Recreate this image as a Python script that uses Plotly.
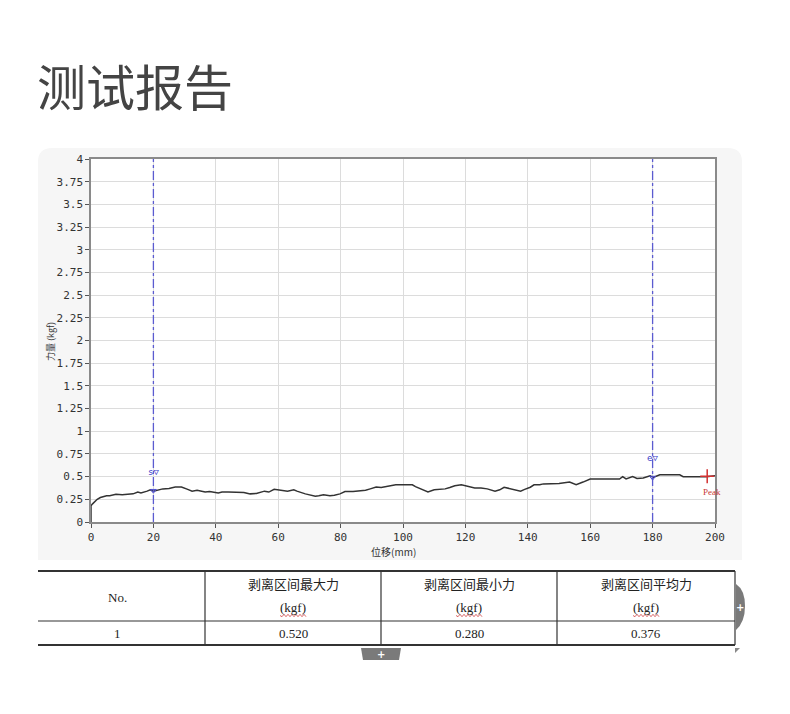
import plotly.graph_objects as go

W, H = 790, 714

# ---------------- data ----------------
displacement = [0, 0, 0.5, 1, 2, 3, 4, 5, 6, 8, 10, 12, 13.5, 15, 16, 18, 19, 20, 21, 23,
                25, 27, 29, 30, 31, 32.4, 34, 36.6, 38, 40.8, 42, 44, 47, 49, 51, 53, 55.6,
                57, 58.7, 60, 62, 63, 65, 66, 68.7, 70, 71.9, 73, 74.5, 76.6, 78, 79.8,
                81.4, 84, 86, 88, 89.5, 91.4, 93, 95.6, 97.7, 100, 103, 104, 105.8, 107,
                108, 110, 112, 113.5, 115, 116.6, 118.7, 121, 123, 125, 127, 129.5, 131,
                132.4, 134, 135.6, 137.7, 139, 140.8, 142, 143.8, 145, 147, 150, 153.4,
                155.5, 157.7, 159, 160, 165, 169.4, 170.4, 171.5, 173.6, 175, 177, 179.2,
                180.2, 182.3, 185, 188.7, 189.8, 193, 197.3, 200]
force = [0.0, 0.18, 0.2, 0.22, 0.25, 0.27, 0.28, 0.29, 0.29, 0.305, 0.30, 0.305, 0.31,
         0.33, 0.32, 0.34, 0.355, 0.34, 0.35, 0.365, 0.37, 0.385, 0.385, 0.375, 0.36,
         0.34, 0.35, 0.33, 0.335, 0.32, 0.33, 0.33, 0.33, 0.325, 0.31, 0.315, 0.34, 0.33,
         0.36, 0.355, 0.35, 0.34, 0.355, 0.34, 0.31, 0.30, 0.285, 0.29, 0.30, 0.29,
         0.295, 0.31, 0.335, 0.335, 0.34, 0.35, 0.365, 0.385, 0.38, 0.40, 0.41, 0.41,
         0.41, 0.39, 0.36, 0.345, 0.33, 0.355, 0.36, 0.365, 0.38, 0.40, 0.41, 0.39,
         0.376, 0.375, 0.365, 0.34, 0.355, 0.383, 0.37, 0.365, 0.34, 0.36, 0.383, 0.41,
         0.41, 0.42, 0.42, 0.425, 0.44, 0.41, 0.44, 0.46, 0.474, 0.474, 0.474, 0.50,
         0.474, 0.50, 0.48, 0.485, 0.51, 0.49, 0.52, 0.52, 0.52, 0.50, 0.50, 0.50, 0.51]

cursor_x = [20, 180]
cursor_y = [0.345, 0.49]
cursor_labels = ["s▽", "e▽"]
cursor_label_y = [0.55, 0.70]

peak_x = [197.5]
peak_y = [0.505]
peak_label = "Peak"

y_ticks = [0, 0.25, 0.5, 0.75, 1, 1.25, 1.5, 1.75, 2, 2.25, 2.5, 2.75, 3, 3.25, 3.5, 3.75, 4]
y_tick_text = ["0", "0.25", "0.5", "0.75", "1", "1.25", "1.5", "1.75", "2", "2.25", "2.5",
               "2.75", "3", "3.25", "3.5", "3.75", "4"]
x_ticks = [0, 20, 40, 60, 80, 100, 120, 140, 160, 180, 200]

title_text = "测试报告"
x_title = "位移(mm)"
y_title = "力量 (kgf)"

table_headers = ["No.", "剥离区间最大力", "剥离区间最小力", "剥离区间平均力"]
table_units = ["", "(kgf)", "(kgf)", "(kgf)"]
table_row = ["1", "0.520", "0.280", "0.376"]

# ---------------- helpers (pixel -> paper) ----------------
def px(x):
    return x / W

def py(y):
    return 1 - y / H

def note(x, y, text, font, **kw):
    d = dict(x=px(x), y=py(y), xref="paper", yref="paper", text=text, showarrow=False,
             xanchor="center", yanchor="middle", font=font)
    d.update(kw)
    return d

fig = go.Figure()

fig.add_trace(go.Scatter(x=displacement, y=force, mode="lines",
                         line=dict(color="#333333", width=1.5),
                         hoverinfo="skip", showlegend=False))

# cursor markers on the curve
fig.add_trace(go.Scatter(x=cursor_x, y=cursor_y, mode="markers",
                         marker=dict(symbol="triangle-down-open", size=5, color="#4a4ad0",
                                     line=dict(color="#4a4ad0", width=1)),
                         hoverinfo="skip", showlegend=False))
# peak
fig.add_trace(go.Scatter(x=peak_x, y=peak_y, mode="markers",
                         marker=dict(symbol="cross-thin-open", size=10, color="#d23030",
                                     line=dict(color="#d23030", width=1.5)),
                         hoverinfo="skip", showlegend=False))

shapes = []
annotations = []

# light grey panel behind the chart
shapes.append(dict(type="path", xref="paper", yref="paper", layer="below",
                   path=(f"M {px(52)},{py(148)} L {px(728)},{py(148)} "
                         f"Q {px(742)},{py(148)} {px(742)},{py(162)} "
                         f"L {px(742)},{py(560)} L {px(38)},{py(560)} "
                         f"L {px(38)},{py(162)} Q {px(38)},{py(148)} {px(52)},{py(148)} Z"),
                   fillcolor="#f6f6f6", line=dict(width=0)))
# white plot area
shapes.append(dict(type="rect", xref="paper", yref="paper", layer="below",
                   x0=px(91), x1=px(715), y0=py(522), y1=py(159),
                   fillcolor="white", line=dict(width=0)))

# cursor lines
for cx, lab, ly in zip(cursor_x, cursor_labels, cursor_label_y):
    shapes.append(dict(type="line", xref="x", yref="y", x0=cx, x1=cx, y0=0, y1=4,
                       line=dict(color="#5b5bd0", width=1.3, dash="dashdot")))
    annotations.append(dict(x=cx, y=ly, xref="x", yref="y", text=lab, showarrow=False,
                            xanchor="center", yanchor="middle",
                            font=dict(family="DejaVu Sans Mono", size=9, color="#3c3cc8")))

annotations.append(dict(x=peak_x[0] + 1.5, y=peak_y[0] - 0.17, xref="x", yref="y",
                        text=peak_label, showarrow=False, xanchor="center", yanchor="middle",
                        font=dict(family="Liberation Serif", size=9, color="#c83838")))

# title
annotations.append(note(35, 84, title_text,
                        dict(family="Noto Sans CJK SC", size=49, color="#444444"),
                        xanchor="left"))

# axis titles
annotations.append(note(393, 551, x_title,
                        dict(family="Noto Sans CJK SC", size=10, color="#333333")))
annotations.append(note(50, 342, y_title,
                        dict(family="Noto Sans CJK SC", size=9, color="#333333"),
                        textangle=-90))

# ---------------- table ----------------
col_edges = [38, 205, 381, 557, 735]
t_top, t_mid, t_bot = 571, 621, 645
for yy, wdt in [(t_top, 2), (t_mid, 1.2), (t_bot, 2)]:
    shapes.append(dict(type="line", xref="paper", yref="paper", x0=px(col_edges[0]),
                       x1=px(col_edges[-1]), y0=py(yy), y1=py(yy),
                       line=dict(color="#333333", width=wdt)))
for xe in col_edges[1:]:
    shapes.append(dict(type="line", xref="paper", yref="paper", x0=px(xe), x1=px(xe),
                       y0=py(t_top), y1=py(t_bot), line=dict(color="#333333", width=1.2)))

cjk_font = dict(family="Noto Sans CJK SC", size=13, color="#222222")
serif_font = dict(family="Liberation Serif", size=13, color="#222222")
for i in range(4):
    cxm = (col_edges[i] + col_edges[i + 1]) / 2
    if table_units[i]:
        annotations.append(note(cxm, 583, table_headers[i], cjk_font))
        annotations.append(note(cxm, 607, table_units[i], serif_font))
        # red spell-check squiggle
        zx0 = cxm - 13
        pts = " ".join(f"L {px(zx0 + k * 2)},{py(615.5 + (1.2 if k % 2 else -1.2))}"
                       for k in range(1, 14))
        shapes.append(dict(type="path", xref="paper", yref="paper",
                           path=f"M {px(zx0)},{py(615.5)} {pts}",
                           line=dict(color="#d04040", width=0.8)))
    else:
        annotations.append(note(cxm - 4, 597, table_headers[i], serif_font))
    annotations.append(note(cxm - (4 if i == 0 else 0), 633, table_row[i], serif_font))

# editor tabs (+)
shapes.append(dict(type="path", xref="paper", yref="paper",
                   path=(f"M {px(736)},{py(584)} Q {px(745)},{py(590)} {px(745)},{py(606)} "
                         f"Q {px(745)},{py(622)} {px(736)},{py(630)} Z"),
                   fillcolor="#7a7a7a", line=dict(width=0)))
annotations.append(note(740, 607, "<b>+</b>",
                        dict(family="DejaVu Sans", size=10, color="white")))
shapes.append(dict(type="path", xref="paper", yref="paper",
                   path=(f"M {px(361)},{py(648)} L {px(401)},{py(648)} L {px(399)},{py(660)} "
                         f"L {px(363)},{py(660)} Z"),
                   fillcolor="#7a7a7a", line=dict(width=0)))
annotations.append(note(381, 654, "<b>+</b>",
                        dict(family="DejaVu Sans", size=10, color="white")))
shapes.append(dict(type="path", xref="paper", yref="paper",
                   path=f"M {px(735)},{py(648)} L {px(740)},{py(648)} L {px(735)},{py(653)} Z",
                   fillcolor="#888888", line=dict(width=0)))

tick_font = dict(family="DejaVu Sans Mono", size=11, color="#333333")
fig.update_layout(
    width=W, height=H,
    autosize=False,
    margin=dict(l=0, r=0, t=0, b=0, pad=0, autoexpand=False),
    paper_bgcolor="white",
    plot_bgcolor="rgba(0,0,0,0)",
    showlegend=False,
    shapes=shapes,
    annotations=annotations,
    xaxis=dict(domain=[px(91), px(715)], range=[0, 200], tickvals=x_ticks,
               ticks="outside", ticklen=4, tickcolor="#555555", tickfont=tick_font,
               showgrid=True, gridcolor="#dcdcdc", gridwidth=1, zeroline=False,
               showline=True, linecolor="#8a8a8a", linewidth=1.5, mirror=True,
               automargin=False, fixedrange=True),
    yaxis=dict(domain=[py(522), py(159)], range=[0, 4], tickvals=y_ticks,
               ticktext=y_tick_text, ticks="outside", ticklen=4, tickcolor="#555555",
               tickfont=tick_font, showgrid=True, gridcolor="#dcdcdc", gridwidth=1,
               zeroline=False, showline=True, linecolor="#8a8a8a", linewidth=1.5,
               mirror=True, automargin=False, fixedrange=True),
)

fig.write_html("out.html", config={"displayModeBar": False},
               post_script="document.body.style.margin='0';")
